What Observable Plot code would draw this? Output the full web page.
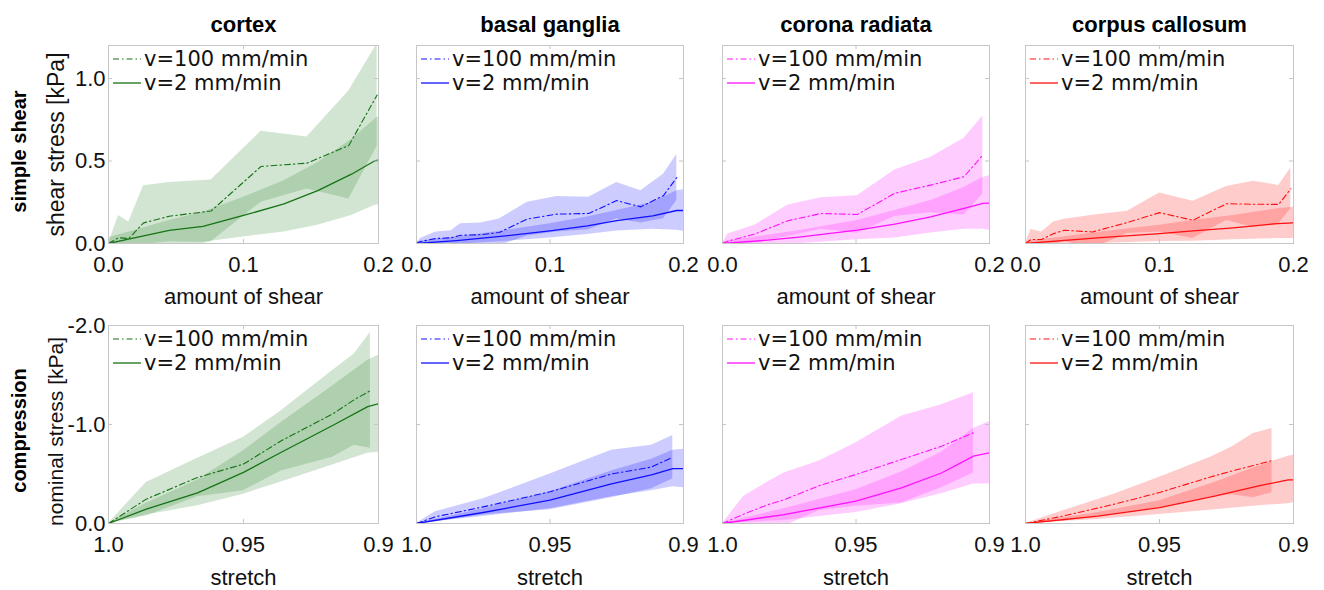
<!DOCTYPE html>
<html><head><meta charset="utf-8">
<script src="https://cdn.jsdelivr.net/npm/d3@7"></script>
<script src="https://cdn.jsdelivr.net/npm/@observablehq/plot@0.6"></script>
<style>
body{margin:0;background:#fff;}
#root{position:relative;width:1324px;height:590px;overflow:hidden;background:#fff;}
#root svg{position:absolute;max-width:none;overflow:visible;background:transparent;}
</style>
</head><body><div id="root"></div>
<script>
// ---------- labels ----------
const regions = ["cortex", "basal ganglia", "corona radiata", "corpus callosum"];
const rowLabels = ["simple shear", "compression"];
const yLabels = ["shear stress [kPa]", "nominal stress [kPa]"];
const xLabels = ["amount of shear", "stretch"];
const legendLabels = ["v=100 mm/min", "v=2 mm/min"];
const shearXTicks = [0, 0.1, 0.2];
const shearXTickLabels = ["0.0", "0.1", "0.2"];
const shearYTicks = [0, 0.5, 1.0];
const shearYTickLabels = ["0.0", "0.5", "1.0"];
const compXTicks = [1.0, 0.95, 0.9];
const compXTickLabels = ["1.0", "0.95", "0.9"];
const compYTicks = [0, -1, -2];
const compYTickLabels = ["0.0", "-1.0", "-2.0"];

// ---------- data: [x, mean, lower, upper] ----------
// simple shear, v=100 mm/min
const cortexShearFast = [[0,0,0,0],[0.0075,0.035,-0.10,0.17],[0.015,0.030,-0.07,0.13],[0.026,0.125,-0.10,0.35],[0.045,0.165,-0.04,0.37],[0.076,0.197,0.01,0.385],[0.113,0.467,0.25,0.68],[0.147,0.487,0.33,0.645],[0.178,0.594,0.27,0.925],[0.199,0.90,0.59,1.21]];
const basalShearFast = [[0,0,0,0],[0.003,0.012,-0.01,0.03],[0.0145,0.03,-0.01,0.07],[0.026,0.035,-0.007,0.077],[0.033,0.05,-0.02,0.12],[0.048,0.053,-0.02,0.125],[0.062,0.067,-0.014,0.148],[0.083,0.148,0.046,0.25],[0.105,0.178,0.07,0.285],[0.129,0.182,0.084,0.28],[0.15,0.26,0.15,0.37],[0.168,0.222,0.124,0.32],[0.185,0.29,0.15,0.42],[0.195,0.40,0.26,0.54]];
const coronaShearFast = [[0,0,0,0],[0.004,0.014,-0.03,0.057],[0.024,0.057,0.004,0.11],[0.049,0.138,0.043,0.233],[0.074,0.182,0.087,0.277],[0.101,0.176,0.062,0.29],[0.129,0.304,0.163,0.445],[0.156,0.354,0.186,0.522],[0.181,0.405,0.172,0.638],[0.195,0.536,0.30,0.773]];
const callosumShearFast = [[0,0,0,0],[0.004,0.024,-0.04,0.085],[0.012,0.024,-0.02,0.07],[0.021,0.06,-0.01,0.13],[0.029,0.08,0.013,0.147],[0.05,0.07,-0.03,0.171],[0.076,0.127,0.06,0.195],[0.1,0.187,0.07,0.306],[0.125,0.141,0.03,0.256],[0.15,0.241,0.14,0.346],[0.17,0.238,0.098,0.378],[0.189,0.237,0.12,0.352],[0.198,0.332,0.21,0.457]];
// simple shear, v=2 mm/min
const cortexShearSlow = [[0,0,-0.035,0.035],[0.02,0.036,-0.01,0.08],[0.045,0.08,0.01,0.14],[0.07,0.104,0.008,0.19],[0.1,0.17,0.04,0.28],[0.13,0.24,0.07,0.38],[0.155,0.32,0.11,0.49],[0.18,0.42,0.17,0.63],[0.197,0.50,0.23,0.75],[0.2,0.505,0.235,0.77]];
const basalShearSlow = [[0,0,-0.01,0.01],[0.03,0.018,-0.004,0.04],[0.063,0.043,0.011,0.075],[0.1,0.077,0.034,0.12],[0.128,0.107,0.054,0.16],[0.15,0.138,0.076,0.2],[0.177,0.168,0.086,0.25],[0.195,0.2,0.08,0.32],[0.2,0.2,0.075,0.326]];
const coronaShearSlow = [[0,0,-0.01,0.01],[0.034,0.02,-0.01,0.05],[0.059,0.04,0,0.08],[0.101,0.081,0.022,0.14],[0.129,0.117,0.034,0.2],[0.156,0.162,0.064,0.26],[0.181,0.213,0.086,0.34],[0.195,0.243,0.086,0.40],[0.2,0.245,0.08,0.41]];
const callosumShearSlow = [[0,0,-0.01,0.01],[0.056,0.036,0,0.07],[0.1,0.06,0.012,0.11],[0.125,0.076,0.014,0.14],[0.155,0.095,0.022,0.17],[0.188,0.121,0.03,0.21],[0.2,0.125,0.03,0.22]];
// compression, v=100 mm/min
const cortexCompFast = [[1.0,0,0,0],[0.986,-0.246,-0.077,-0.415],[0.967,-0.465,-0.27,-0.66],[0.95,-0.60,-0.33,-0.87],[0.936,-0.836,-0.53,-1.14],[0.917,-1.106,-0.67,-1.545],[0.909,-1.25,-0.79,-1.713],[0.903,-1.342,-0.76,-1.93]];
const basalCompFast = [[1.0,0,0,0],[0.993,-0.067,-0.016,-0.118],[0.975,-0.168,-0.086,-0.25],[0.95,-0.32,-0.14,-0.50],[0.927,-0.50,-0.26,-0.74],[0.912,-0.57,-0.35,-0.79],[0.904,-0.67,-0.45,-0.89]];
const coronaCompFast = [[1.0,0,0,0],[0.992,-0.095,0.086,-0.276],[0.983,-0.19,0.04,-0.42],[0.977,-0.24,0.03,-0.51],[0.964,-0.38,-0.13,-0.63],[0.95,-0.495,-0.175,-0.815],[0.933,-0.646,-0.208,-1.084],[0.918,-0.78,-0.36,-1.20],[0.906,-0.916,-0.51,-1.32]];
const callosumCompFast = [[1.0,0,0,0],[0.986,-0.075,-0.022,-0.128],[0.967,-0.194,-0.092,-0.296],[0.95,-0.313,-0.16,-0.466],[0.931,-0.47,-0.27,-0.67],[0.923,-0.53,-0.29,-0.772],[0.915,-0.585,-0.26,-0.908],[0.908,-0.636,-0.31,-0.96]];
// compression, v=2 mm/min
const cortexCompSlow = [[1.0,0,0,0],[0.986,-0.145,-0.085,-0.205],[0.967,-0.31,-0.18,-0.44],[0.95,-0.516,-0.296,-0.736],[0.936,-0.72,-0.42,-1.02],[0.917,-0.99,-0.59,-1.39],[0.904,-1.18,-0.71,-1.65],[0.9,-1.21,-0.72,-1.70]];
const basalCompSlow = [[1.0,0,0,0],[0.975,-0.111,-0.07,-0.15],[0.95,-0.235,-0.15,-0.32],[0.927,-0.40,-0.27,-0.53],[0.912,-0.49,-0.33,-0.65],[0.904,-0.555,-0.37,-0.74],[0.9,-0.555,-0.36,-0.75]];
const coronaCompSlow = [[1.0,0,0,0],[0.977,-0.09,-0.03,-0.15],[0.95,-0.225,-0.11,-0.34],[0.933,-0.36,-0.2,-0.52],[0.918,-0.51,-0.3,-0.72],[0.906,-0.68,-0.4,-0.96],[0.9,-0.714,-0.40,-1.03]];
const callosumCompSlow = [[1.0,0,0,0],[0.973,-0.075,-0.04,-0.11],[0.95,-0.16,-0.09,-0.23],[0.929,-0.28,-0.14,-0.42],[0.913,-0.38,-0.18,-0.58],[0.902,-0.44,-0.2,-0.68],[0.9,-0.44,-0.21,-0.69]];

const lineColors = ["#167316", "#1010ff", "#ff10ff", "#ff1010"];
const fillColors = ["#1f7f1f", "#0000ff", "#ff00ff", "#ff0000"];

const shearFast = [cortexShearFast, basalShearFast, coronaShearFast, callosumShearFast];
const shearSlow = [cortexShearSlow, basalShearSlow, coronaShearSlow, callosumShearSlow];
const compFast = [cortexCompFast, basalCompFast, coronaCompFast, callosumCompFast];
const compSlow = [cortexCompSlow, basalCompSlow, coronaCompSlow, callosumCompSlow];

// ---------- layout ----------
const colLeft = [108, 416, 722, 1025];
const colWidth = [270, 267, 267, 268];
const rowTop = [45, 325];
const panelH = 198;
const frameColor = "#c6c6c6";
const dashDot = "6,3,1.5,3";
const tickFont = 22, labelFont = 22, yLabelFonts = [23, 21];

const root = document.getElementById("root");

for (let row = 0; row < 2; row++) {
  for (let col = 0; col < 4; col++) {
    const L = colLeft[col], W = colWidth[col], T = rowTop[row], H = panelH;
    const mL = col === 0 ? 108 : 40, mR = 25;
    const mT = row === 0 ? 45 : 20, mB = row === 0 ? 70 : 67;
    const fast = row === 0 ? shearFast[col] : compFast[col];
    const slow = row === 0 ? shearSlow[col] : compSlow[col];
    const xTicks = row === 0 ? shearXTicks : compXTicks;
    const xTickLabels = row === 0 ? shearXTickLabels : compXTickLabels;
    const yTicks = row === 0 ? shearYTicks : compYTicks;
    const yTickLabels = row === 0 ? shearYTickLabels : compYTickLabels;
    const xDomain = row === 0 ? [0, 0.2] : [1.0, 0.9];
    const yDomain = row === 0 ? [0, 1.2] : [0, -2];

    const marks = [
      Plot.areaY(fast, {x: d => d[0], y1: d => d[2], y2: d => d[3], fill: fillColors[col], fillOpacity: 0.2, clip: true}),
      Plot.areaY(slow, {x: d => d[0], y1: d => d[2], y2: d => d[3], fill: fillColors[col], fillOpacity: 0.2, clip: true}),
      Plot.line(slow, {x: d => d[0], y: d => d[1], stroke: lineColors[col], strokeWidth: 1.3, clip: true}),
      Plot.line(fast, {x: d => d[0], y: d => d[1], stroke: lineColors[col], strokeWidth: 1.1, strokeDasharray: dashDot, clip: true}),
      Plot.frame({stroke: frameColor}),
      Plot.tickX(xTicks, {x: d => d, stroke: frameColor, insetTop: H - 4}),
      Plot.tickX(xTicks, {x: d => d, stroke: frameColor, insetBottom: H - 4}),
      Plot.tickY(yTicks, {y: d => d, stroke: frameColor, insetRight: W - 4}),
      Plot.tickY(yTicks, {y: d => d, stroke: frameColor, insetLeft: W - 4}),
      Plot.text(xTicks, {x: d => d, text: (d, i) => xTickLabels[i], frameAnchor: "bottom", lineAnchor: "middle", dy: 21, fontSize: tickFont, fill: "#111"}),
      Plot.text([xLabels[row]], {text: d => d, frameAnchor: "bottom", lineAnchor: "middle", dy: row === 0 ? 53 : 54, fontSize: labelFont, fill: "#111"})
    ];
    if (col === 0) {
      marks.push(
        Plot.text(yTicks, {y: d => d, text: (d, i) => yTickLabels[i], frameAnchor: "left", textAnchor: "end", lineAnchor: "middle", dx: -3, fontSize: tickFont, fill: "#111"}),
        Plot.text([yLabels[row]], {text: d => d, frameAnchor: "left", textAnchor: "middle", lineAnchor: "middle", dx: -52, dy: row === 0 ? 0 : 7, rotate: -90, fontSize: yLabelFonts[row], fill: "#111"}),
        Plot.text([rowLabels[row]], {text: d => d, frameAnchor: "left", textAnchor: "middle", lineAnchor: "middle", dx: -89, dy: row === 0 ? 7 : 6, rotate: -90, fontSize: 20, fontWeight: "bold", fill: "#000"})
      );
    }
    if (row === 0) {
      marks.push(Plot.text([regions[col]], {text: d => d, frameAnchor: "top", lineAnchor: "middle", dy: -21, fontSize: 22, fontWeight: "bold", fill: "#000"}));
    }

    const svg = Plot.plot({
      width: W + mL + mR, height: H + mT + mB,
      marginLeft: mL, marginRight: mR, marginTop: mT, marginBottom: mB,
      x: {domain: xDomain, axis: null},
      y: {domain: yDomain, axis: null},
      style: {fontFamily: "'Liberation Sans', Arial, sans-serif", overflow: "visible", background: "transparent"},
      marks
    });
    svg.style.left = (L - mL) + "px";
    svg.style.top = (T - mT) + "px";
    root.appendChild(svg);

    // legend (inside the upper-left corner of the panel)
    const lg = d3.select(root).append("svg")
      .attr("width", 200).attr("height", 50)
      .style("left", L + "px").style("top", T + "px");
    const rowsY = [14, 38];
    legendLabels.forEach((lab, i) => {
      lg.append("line").attr("x1", 5).attr("x2", 33).attr("y1", rowsY[i]).attr("y2", rowsY[i])
        .attr("stroke", lineColors[col]).attr("stroke-width", i === 0 ? 1.1 : 1.3)
        .attr("stroke-dasharray", i === 0 ? dashDot : null);
      lg.append("text").attr("x", 36).attr("y", rowsY[i]).attr("dy", "0.35em")
        .attr("font-family", "'DejaVu Sans', sans-serif").attr("font-size", 21).attr("fill", "#111")
        .text(lab);
    });
  }
}
</script>
</body></html>
